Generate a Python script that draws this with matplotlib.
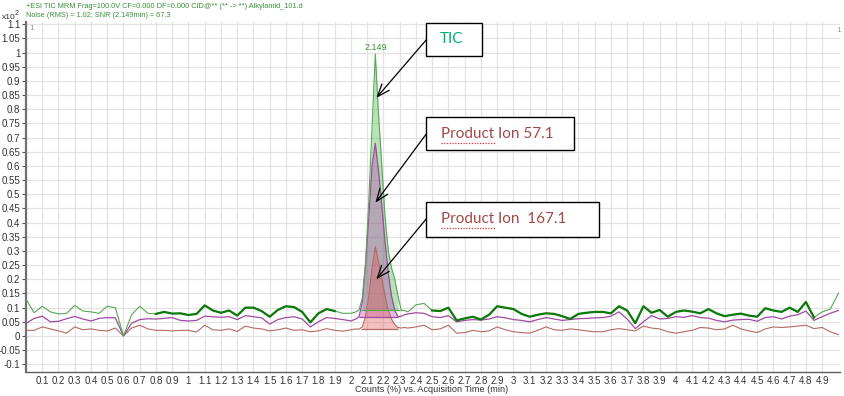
import numpy as np
import matplotlib
matplotlib.use('Agg')
import matplotlib.pyplot as plt
from matplotlib.patches import Rectangle
from matplotlib import font_manager as fm

plt.rcParams['font.family'] = ['Open Sans', 'DejaVu Sans']

# sample times (min): coarse baseline, finer across the peak
time = np.round(np.concatenate([
    np.arange(0.0, 2.001, 0.05),
    np.arange(2.03, 2.331, 0.02),
    np.arange(2.35, 5.001, 0.05),
]), 3)

# TIC (x10^2 counts)
tic = [
    0.130, 0.082, 0.105, 0.085, 0.078, 0.080, 0.108, 0.088, 0.085, 0.080,
    0.105, 0.100, 0.000, 0.075, 0.105, 0.080, 0.078, 0.085, 0.079, 0.080,
    0.074, 0.078, 0.108, 0.090, 0.082, 0.090, 0.072, 0.100, 0.100, 0.088,
    0.068, 0.092, 0.105, 0.102, 0.085, 0.048, 0.080, 0.095, 0.088, 0.080,
    0.080,
    0.085, 0.092, 0.135, 0.260, 0.480, 0.740, 0.995, 0.780, 0.600, 0.420,
    0.300, 0.240, 0.200, 0.140, 0.090, 0.090,
    0.085, 0.110, 0.115, 0.090, 0.088, 0.100, 0.055, 0.062, 0.068, 0.058,
    0.075, 0.105, 0.100, 0.095, 0.078, 0.068, 0.075, 0.080, 0.078, 0.070,
    0.060, 0.078, 0.082, 0.085, 0.085, 0.080, 0.105, 0.090, 0.045, 0.105,
    0.082, 0.092, 0.068, 0.085, 0.090, 0.086, 0.080, 0.095, 0.080, 0.070,
    0.075, 0.079, 0.072, 0.068, 0.098, 0.090, 0.085, 0.100, 0.085, 0.120,
    0.065, 0.085, 0.095, 0.150,
]

# product ion 57.1
ion57 = [
    0.044, 0.062, 0.070, 0.050, 0.052, 0.061, 0.069, 0.060, 0.053, 0.062,
    0.065, 0.064, 0.000, 0.045, 0.058, 0.061, 0.060, 0.062, 0.065, 0.055,
    0.053, 0.055, 0.070, 0.068, 0.066, 0.068, 0.058, 0.072, 0.068, 0.064,
    0.042, 0.058, 0.065, 0.068, 0.060, 0.032, 0.050, 0.065, 0.062, 0.058,
    0.053,
    0.060, 0.068, 0.120, 0.250, 0.420, 0.600, 0.680, 0.580, 0.460, 0.330,
    0.220, 0.140, 0.090, 0.068, 0.070, 0.075,
    0.078, 0.082, 0.080, 0.068, 0.065, 0.072, 0.050, 0.055, 0.058, 0.056,
    0.060, 0.068, 0.064, 0.058, 0.055, 0.050, 0.058, 0.065, 0.060, 0.055,
    0.058, 0.061, 0.062, 0.064, 0.065, 0.070, 0.085, 0.060, 0.026, 0.050,
    0.072, 0.060, 0.062, 0.068, 0.066, 0.072, 0.065, 0.063, 0.055, 0.050,
    0.056, 0.058, 0.059, 0.052, 0.065, 0.068, 0.060, 0.070, 0.075, 0.088,
    0.055, 0.068, 0.080, 0.090,
]

# product ion 167.1
ion167 = [
    0.020, 0.020, 0.032, 0.025, 0.018, 0.010, 0.032, 0.022, 0.025, 0.020,
    0.018, 0.028, 0.000, 0.028, 0.038, 0.025, 0.020, 0.020, 0.018, 0.020,
    0.020, 0.014, 0.038, 0.022, 0.020, 0.025, 0.016, 0.035, 0.028, 0.025,
    0.018, 0.022, 0.028, 0.020, 0.022, 0.015, 0.018, 0.026, 0.020, 0.017,
    0.022,
    0.025, 0.024, 0.032, 0.070, 0.140, 0.240, 0.315, 0.260, 0.200, 0.140,
    0.090, 0.060, 0.040, 0.030, 0.028, 0.030,
    0.028, 0.032, 0.038, 0.022, 0.025, 0.038, 0.010, 0.012, 0.020, 0.015,
    0.018, 0.032, 0.022, 0.015, 0.012, 0.010, 0.020, 0.032, 0.022, 0.020,
    0.025, 0.022, 0.018, 0.015, 0.015, 0.022, 0.026, 0.022, 0.018, 0.035,
    0.028, 0.025, 0.015, 0.010, 0.015, 0.020, 0.030, 0.028, 0.022, 0.025,
    0.038, 0.025, 0.018, 0.012, 0.025, 0.032, 0.030, 0.032, 0.035, 0.038,
    0.026, 0.030, 0.015, 0.005,
]

# integrated peak: start, end, baseline level for each trace
peak_start = [2.06, 2.05, 2.06]
peak_end = [2.30, 2.29, 2.29]
peak_base = [0.090, 0.066, 0.025]
thick_ranges = [(0.79, 1.90), (2.50, 4.86)]
arrow_tips = [(2.156, 0.84), (2.150, 0.47), (2.156, 0.20)]

tic = np.array(tic)
ion57 = np.array(ion57)
ion167 = np.array(ion167)
assert len(tic) == len(ion57) == len(ion167) == len(time)


def pick_font(names):
    for n in names:
        try:
            fm.findfont(fm.FontProperties(family=n), fallback_to_default=False)
            return n
        except ValueError:
            pass
    return 'DejaVu Sans'


small = pick_font(['Liberation Sans Narrow', 'DejaVu Sans Condensed', 'Liberation Sans'])
small_fam = [small, 'DejaVu Sans']

W, H = 844, 396
fig = plt.figure(figsize=(W / 100, H / 100), dpi=100)
ax = fig.add_axes([26 / W, 24.3 / H, (840 - 26) / W, (374 - 24.3) / H])


def fx(x):
    return x / W


def fy(y):
    return 1 - y / H


green_thin = '#55a955'
green_thick = '#0b7a0b'
purple = '#a04aa0'
brown = '#b46a64'

# traces
ax.plot(time, ion167, color=brown, lw=0.8, zorder=3)
ax.plot(time, ion57, color=purple, lw=0.9, zorder=3)
ax.plot(time, tic, color=green_thin, lw=0.8, zorder=4)
thick = np.full(len(time), np.nan)
for a, b in thick_ranges:
    m = (time >= a) & (time <= b)
    thick[m] = tic[m]
ax.plot(time, thick, color=green_thick, lw=1.6, zorder=5)

# integration fills
fills = [(tic, '#3cb43c', green_thin), (ion57, '#b040b0', purple), (ion167, '#e05050', brown)]
for (y, fc, lc), s, e, b in zip(fills, peak_start, peak_end, peak_base):
    m = (time >= s) & (time <= e)
    ax.fill_between(time, b, y, where=m, color=fc, alpha=0.36, lw=0, zorder=2)
    ax.hlines(b, s, e, color=lc, lw=0.9, zorder=3)

# axes styling
ax.set_xlim(0, 5.01)
ax.set_ylim(-0.126, 1.108)
xt = np.round(np.arange(0.1, 4.95, 0.1), 1)
ax.set_xticks(xt)
ax.set_xticklabels([f'{v:g}' for v in xt], family=small_fam)
yt = np.round(np.arange(-0.1, 1.101, 0.05), 2)
ax.set_yticks(yt)
ax.set_yticklabels([f'{v:g}' for v in yt], family=small_fam)
ax.tick_params(axis='x', length=0, pad=3, labelsize=7, labelcolor='#333333')
ax.tick_params(axis='y', length=3, width=0.8, pad=1, labelsize=7,
               labelcolor='#333333', color='#555555')
ax.grid(True, color='#e3e3e3', lw=0.9)
ax.set_axisbelow(True)
for s in ['top', 'right']:
    ax.spines[s].set_visible(False)
ax.spines['left'].set_color('#707070')
ax.spines['left'].set_linewidth(1.6)
ax.spines['bottom'].set_color('#606060')
ax.spines['bottom'].set_linewidth(1.0)

fig.text(fx(432), fy(390), 'Counts (%) vs. Acquisition Time (min)', family=small_fam,
         fontsize=6.6, color='#333333', ha='center', va='center')

# header
hdr = '#3b8f3b'
fig.text(fx(26), fy(7), '+ESI TIC MRM Frag=100.0V CF=0.000 DF=0.000 CID@** (** -> **) Alkylamid_101.d',
         fontsize=5.3, color=hdr, va='center', family=small_fam)
fig.text(fx(26), fy(15.5), 'Noise (RMS) = 1.02; SNR (2.149min) = 67.3',
         fontsize=5.3, color=hdr, va='center', family=small_fam)
fig.text(fx(2), fy(17.5), 'x10', fontsize=6, color='#333333', va='center', family=small_fam)
fig.text(fx(14.5), fy(13.5), '2', fontsize=5, color='#333333', va='center', family=small_fam)
fig.text(fx(29), fy(29), '1', fontsize=6, color='#999999', va='center', family=small_fam)
fig.text(fx(836), fy(31), '1', fontsize=6, color='#999999', va='center', family=small_fam)

ax.annotate('2.149', xy=(time[np.argmax(tic)], tic.max()), xytext=(0, 3),
            textcoords='offset points', ha='center', fontsize=6.5, color=hdr,
            family=small_fam)

# callout boxes
boxes = [
    (426, 23, 56, 33, 'TIC', '#00b07a', 440, 39),
    (426, 117, 148, 33, 'Product Ion 57.1', '#a24a48', 441, 134),
    (426, 202, 173, 35, 'Product Ion  167.1', '#a24a48', 441, 219),
]
for (bx, by, bw, bh, txt, col, tx, ty), tip in zip(boxes, arrow_tips):
    fig.patches.append(Rectangle((fx(bx), fy(by + bh)), bw / W, bh / H,
                                 transform=fig.transFigure, facecolor='white',
                                 edgecolor='black', lw=1.0, zorder=10))
    fig.text(fx(tx), fy(ty), txt, fontsize=11, color=col, va='center',
             family=['Lato', 'DejaVu Sans'], zorder=11)
    ax.annotate('', xy=tip, xycoords='data',
                xytext=(fx(bx + 1), fy(by + 16)), textcoords='figure fraction',
                arrowprops=dict(arrowstyle='->,head_length=0.9,head_width=0.35',
                                color='black', lw=0.9, shrinkA=0, shrinkB=0),
                zorder=9, annotation_clip=False)

# spell-check underline under "Product"
for uy in [142.5, 227.5]:
    fig.add_artist(plt.Line2D([fx(441), fx(496)], [fy(uy), fy(uy)], color='#e03030',
                              lw=0.9, ls=(0, (1, 1.2)), transform=fig.transFigure, zorder=12))

fig.savefig('out.png', dpi=100)
